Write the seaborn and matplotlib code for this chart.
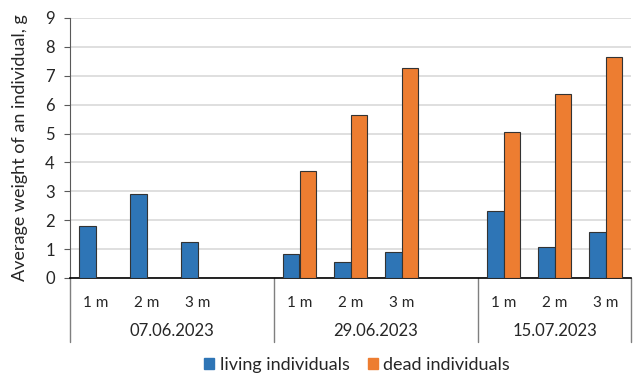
import numpy as np
import pandas as pd
import matplotlib
matplotlib.use('Agg')
import matplotlib.pyplot as plt
import seaborn as sns

# 데이터
dates = ['07.06.2023', '29.06.2023', '15.07.2023']
depths = ['1 m', '2 m', '3 m']
living = [1.79, 2.92, 1.23, 0.84, 0.54, 0.91, 2.32, 1.07, 1.60]
dead = [np.nan, np.nan, np.nan, 3.72, 5.65, 7.27, 5.07, 6.37, 7.65]
series_names = ['living individuals', 'dead individuals']
colors = ['#2E75B6', '#ED7D31']

sns.set_style('white')
plt.rcParams['font.family'] = ['Lato', 'DejaVu Sans']

# 카테고리 순서 (날짜 사이에 빈 칸 하나씩)
order = []
tick_labels = []
rows = []
i = 0
for d_idx, d in enumerate(dates):
    for dep in depths:
        key = f'{d} {dep}'
        order.append(key)
        tick_labels.append(dep)
        rows.append({'cat': key, 'series': series_names[0], 'value': living[i]})
        rows.append({'cat': key, 'series': series_names[1], 'value': dead[i]})
        i += 1
    if d_idx < len(dates) - 1:
        order.append(f'gap{d_idx}')
        tick_labels.append('')
df = pd.DataFrame(rows).dropna()

fig = plt.figure(figsize=(6.33, 3.8), dpi=100)
ax = fig.add_axes([70 / 633, 1 - 278 / 380, 561 / 633, 260 / 380])

sns.barplot(data=df, x='cat', y='value', hue='series', order=order,
            hue_order=series_names, palette=colors, saturation=1, width=0.63,
            errorbar=None, edgecolor='#333333', linewidth=0.8, ax=ax,
            legend=False, zorder=3)

ax.set_ylim(0, 9)
ax.set_xlim(-0.5, len(order) - 0.5)
ax.set_yticks(range(0, 10))
ax.yaxis.grid(True, color='#D9D9D9', linewidth=1.2, zorder=0)
ax.set_axisbelow(True)
for s in ['top', 'right']:
    ax.spines[s].set_visible(False)
ax.spines['left'].set_color('#595959')
ax.spines['bottom'].set_color('black')
ax.spines['bottom'].set_linewidth(1.2)
ax.tick_params(axis='y', length=4, color='#595959', labelsize=12, pad=7, left=True)
ax.set_xticks(range(len(order)))
ax.set_xticklabels(tick_labels, fontsize=11)
ax.tick_params(axis='x', length=0, pad=13)
ax.set_xlabel('')
ax.set_ylabel('Average weight of an individual, g', fontsize=13, labelpad=12)

# 날짜 라벨 및 구분선
trans = ax.get_xaxis_transform()
for x in [-0.5, 3.5, 7.5, len(order) - 0.5]:
    ax.plot([x, x], [0, -0.246], transform=trans, color='#7F7F7F',
            linewidth=1, clip_on=False)
centers = [1.5, 5.5, 9]
for c, d in zip(centers, dates):
    ax.text(c, -0.204, d, transform=trans, ha='center', va='center', fontsize=12)

# 범례
handles = [plt.Rectangle((0, 0), 1, 1, color=c) for c in colors]
fig.legend(handles, series_names, loc='center', bbox_to_anchor=(357 / 633, 15 / 380),
           ncol=2, frameon=False, fontsize=13, handlelength=0.55, handleheight=0.55,
           handletextpad=0.3, columnspacing=1.0)

fig.savefig('out.png', dpi=100)
